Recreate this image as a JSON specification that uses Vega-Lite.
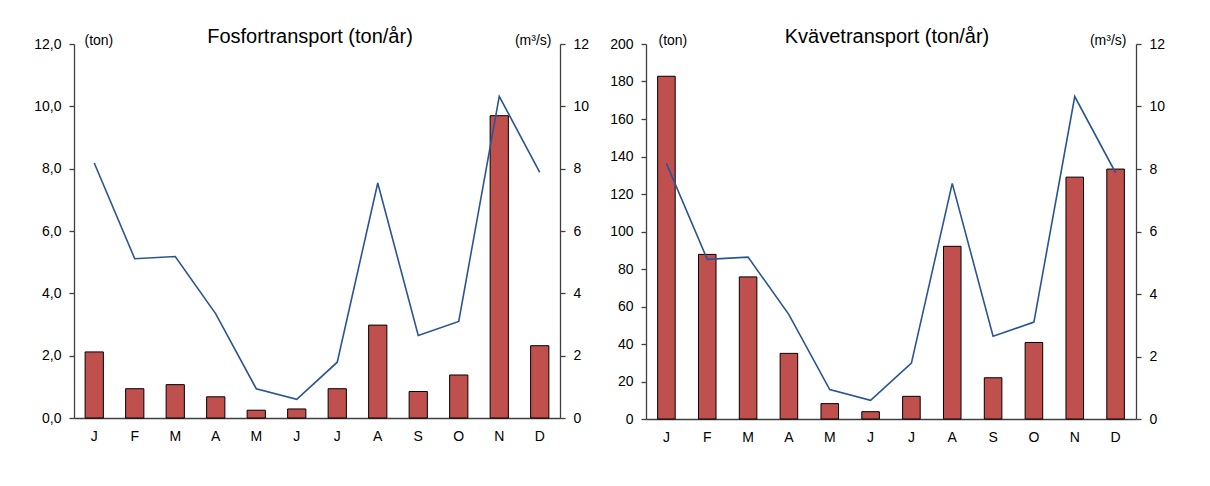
{
  "$schema": "https://vega.github.io/schema/vega-lite/v6.json",
  "padding": {"left": 33, "top": 27, "right": 5, "bottom": 5},
  "spacing": 20,
  "data": {"values": [
    {"month": "jan", "fosfor": 2.12, "kvave": 182.8, "flow": 8.18},
    {"month": "feb", "fosfor": 0.94, "kvave": 87.8, "flow": 5.11},
    {"month": "mar", "fosfor": 1.07, "kvave": 75.8, "flow": 5.18},
    {"month": "apr", "fosfor": 0.68, "kvave": 35.0, "flow": 3.34},
    {"month": "maj", "fosfor": 0.25, "kvave": 8.2, "flow": 0.94},
    {"month": "jun", "fosfor": 0.29, "kvave": 3.9, "flow": 0.60},
    {"month": "jul", "fosfor": 0.94, "kvave": 12.1, "flow": 1.79},
    {"month": "aug", "fosfor": 2.98, "kvave": 92.1, "flow": 7.54},
    {"month": "sep", "fosfor": 0.85, "kvave": 22.0, "flow": 2.65},
    {"month": "okt", "fosfor": 1.38, "kvave": 40.8, "flow": 3.10},
    {"month": "nov", "fosfor": 9.70, "kvave": 129.0, "flow": 10.32},
    {"month": "dec", "fosfor": 2.32, "kvave": 133.3, "flow": 7.88}
  ]},
  "config": {
    "font": "Liberation Sans",
    "view": {"stroke": null},
    "axis": {
      "labelFont": "Liberation Sans",
      "labelFontSize": 14,
      "labelColor": "#000000",
      "titleFont": "Liberation Sans",
      "titleFontSize": 14,
      "titleFontWeight": "normal",
      "titleColor": "#000000",
      "domainColor": "#404040",
      "tickColor": "#404040",
      "domainWidth": 1.3,
      "tickWidth": 1.3,
      "grid": false
    },
    "title": {"font": "Liberation Sans", "fontSize": 20, "fontWeight": "normal", "color": "#000000"}
  },
  "hconcat": [
    {
      "width": 486,
      "height": 374,
      "title": {"text": "Fosfortransport (ton/år)", "anchor": "middle", "frame": "group", "baseline": "alphabetic", "offset": -30, "dx": -7},
      "layer": [
        {
          "mark": {"type": "bar", "color": "#C0504D", "stroke": "#000000", "strokeWidth": 1},
          "encoding": {
            "x": {"field": "month", "type": "ordinal", "sort": null,
                  "scale": {"paddingInner": 0.55, "paddingOuter": 0.275},
                  "axis": {"title": null, "ticks": false, "labelAngle": 0, "labelPadding": 11, "labelExpr": "upper(slice(datum.label,0,1))"}},
            "y": {"field": "fosfor", "type": "quantitative", "scale": {"domain": [0, 12], "nice": false},
                  "axis": {"values": [0, 2, 4, 6, 8, 10, 12], "labelExpr": "replace(format(datum.value,'.1f'),'.',',')",
                           "title": "(ton)", "titleAngle": 0, "titleAlign": "left", "titleBaseline": "middle",
                           "titleFontSize": 14, "titleX": 10, "titleY": -4, "tickSize": 5, "labelPadding": 8}}
          }
        },
        {
          "mark": {"type": "line", "color": "#2A5595", "strokeWidth": 1.6},
          "encoding": {
            "x": {"field": "month", "type": "ordinal", "sort": null},
            "y": {"field": "flow", "type": "quantitative", "scale": {"domain": [0, 12], "nice": false},
                  "axis": {"orient": "right", "values": [0, 2, 4, 6, 8, 10, 12], "format": "d",
                           "title": "(m³/s)", "titleAngle": 0, "titleAlign": "right", "titleBaseline": "middle",
                           "titleFontSize": 14, "titleX": -9, "titleY": -4, "tickSize": 5, "labelPadding": 8}}
          }
        }
      ],
      "resolve": {"scale": {"y": "independent"}}
    },
    {
      "width": 490,
      "height": 375,
      "title": {"text": "Kvävetransport (ton/år)", "anchor": "middle", "frame": "group", "baseline": "alphabetic", "offset": -30, "dx": -4},
      "layer": [
        {
          "mark": {"type": "bar", "color": "#C0504D", "stroke": "#000000", "strokeWidth": 1},
          "encoding": {
            "x": {"field": "month", "type": "ordinal", "sort": null,
                  "scale": {"paddingInner": 0.57, "paddingOuter": 0.285},
                  "axis": {"title": null, "ticks": false, "labelAngle": 0, "labelPadding": 11, "labelExpr": "upper(slice(datum.label,0,1))"}},
            "y": {"field": "kvave", "type": "quantitative", "scale": {"domain": [0, 200], "nice": false},
                  "axis": {"values": [0, 20, 40, 60, 80, 100, 120, 140, 160, 180, 200], "format": "d",
                           "title": "(ton)", "titleAngle": 0, "titleAlign": "left", "titleBaseline": "middle",
                           "titleFontSize": 14, "titleX": 12, "titleY": -4, "tickSize": 5, "labelPadding": 8}}
          }
        },
        {
          "mark": {"type": "line", "color": "#2A5595", "strokeWidth": 1.6},
          "encoding": {
            "x": {"field": "month", "type": "ordinal", "sort": null},
            "y": {"field": "flow", "type": "quantitative", "scale": {"domain": [0, 12], "nice": false},
                  "axis": {"orient": "right", "values": [0, 2, 4, 6, 8, 10, 12], "format": "d",
                           "title": "(m³/s)", "titleAngle": 0, "titleAlign": "right", "titleBaseline": "middle",
                           "titleFontSize": 14, "titleX": -10, "titleY": -4, "tickSize": 5, "labelPadding": 8}}
          }
        }
      ],
      "resolve": {"scale": {"y": "independent"}}
    }
  ]
}
